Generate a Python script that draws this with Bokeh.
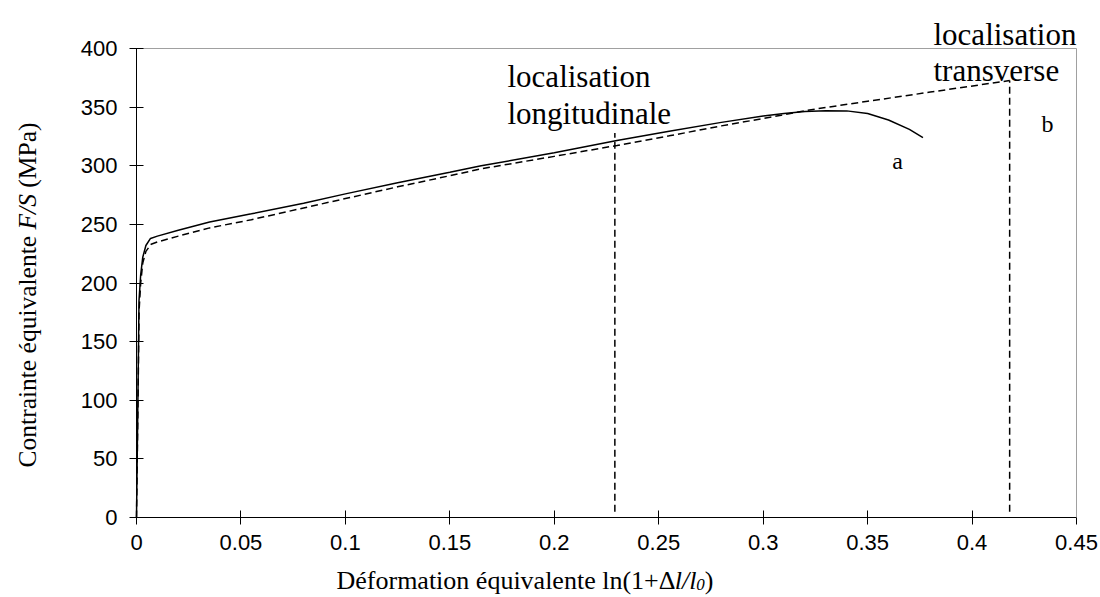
import math
from bokeh.plotting import figure
from bokeh.models import Range1d, FixedTicker, Label, LinearAxis
from bokeh.embed import file_html
from bokeh.resources import INLINE

# ---------------- data ----------------
x_ticks = [0, 0.05, 0.1, 0.15, 0.2, 0.25, 0.3, 0.35, 0.4, 0.45]
x_tick_labels = ["0", "0.05", "0.1", "0.15", "0.2", "0.25", "0.3", "0.35", "0.4", "0.45"]
y_ticks = [0, 50, 100, 150, 200, 250, 300, 350, 400]
y_tick_labels = ["0", "50", "100", "150", "200", "250", "300", "350", "400"]
x_min, x_max = 0, 0.45
y_min, y_max = 0, 400

# curve a (solid)
a_strain = [0, 0.0008, 0.0012, 0.002, 0.003, 0.0045, 0.0067, 0.01, 0.02, 0.035,
            0.055, 0.08, 0.1, 0.125, 0.15, 0.165, 0.2, 0.23, 0.255, 0.28,
            0.3, 0.31, 0.32, 0.33, 0.34, 0.35, 0.36, 0.37, 0.3765]
a_stress = [0, 120, 185, 207, 222, 232, 238, 240, 245, 252,
            259, 268, 276, 285.5, 294.5, 300, 311, 321.5, 329.5, 337,
            342.5, 344.6, 346.3, 347, 346.8, 344.5, 339, 331, 324]

# curve b (dashed)
b_strain = [0, 0.0008, 0.0012, 0.002, 0.003, 0.0045, 0.007, 0.01, 0.02, 0.035,
            0.055, 0.08, 0.1, 0.125, 0.15, 0.165, 0.2, 0.23, 0.255, 0.28,
            0.3086, 0.32, 0.35, 0.38, 0.418]
b_stress = [0, 110, 175, 200, 217, 227, 233, 235, 240, 247,
            254, 264, 272, 282, 291.5, 297.4, 308, 317.3, 325.5, 334,
            343, 347, 355, 362.8, 372.7]

# localisation markers (vertical dashed lines)
loc_x = [0.229, 0.418]
loc_bottom = [5, 5]
loc_top = [328, 372.7]

# ---------------- layout (picture pixels) ----------------
W, H = 1100, 597
PL, PR, PT, PB = 136, 1076, 48, 517   # plot area edges in picture pixels
kx = (x_max - x_min) / (PR - PL)
ky = (y_max - y_min) / (PB - PT)

def dx(px):
    return x_min + (px - PL) * kx

def dy(py):
    return y_min + (PB - py) * ky

p = figure(width=W, height=H, output_backend="svg", toolbar_location=None, title=None,
           x_axis_location=None, y_axis_location=None,
           x_range=Range1d(dx(0), dx(W)), y_range=Range1d(dy(H), dy(0)),
           min_border_left=0, min_border_right=0, min_border_top=0, min_border_bottom=0,
           background_fill_color="white", border_fill_color="white")
p.outline_line_color = None
for g in p.grid:
    g.grid_line_color = None

def style_axis(ax, ticks, labels):
    ax.ticker = FixedTicker(ticks=ticks)
    ax.major_label_overrides = {t: l for t, l in zip(ticks, labels)}
    ax.axis_line_color = "black"
    ax.axis_line_width = 1
    ax.major_tick_line_color = "black"
    ax.major_tick_in = 7
    ax.major_tick_out = 7
    ax.minor_tick_line_color = None
    ax.major_label_text_font = "Liberation Sans"
    ax.major_label_text_font_size = "22px"
    ax.major_label_text_color = "black"

xaxis = LinearAxis(fixed_location=y_min, bounds=(x_min, x_max), major_label_standoff=10)
style_axis(xaxis, x_ticks, x_tick_labels)
p.add_layout(xaxis, "below")

yaxis = LinearAxis(fixed_location=x_min, bounds=(y_min, y_max), major_label_standoff=12)
style_axis(yaxis, y_ticks, y_tick_labels)
p.add_layout(yaxis, "left")

# grey frame on top and right
for loc, side, bnds in ((y_max, "above", (x_min, x_max)), (x_max, "right", (y_min, y_max))):
    fr = LinearAxis(fixed_location=loc, bounds=bnds, ticker=FixedTicker(ticks=[]),
                    axis_line_color="#a0a0a0", axis_line_width=1,
                    major_tick_line_color=None, minor_tick_line_color=None,
                    major_label_text_color=None)
    p.add_layout(fr, side)

p.line(a_strain, a_stress, line_color="black", line_width=1.5)
p.line(b_strain, b_stress, line_color="black", line_width=1.5, line_dash="7 4")
p.segment(x0=loc_x, y0=loc_bottom, x1=loc_x, y1=loc_top,
          line_color="black", line_width=1.5, line_dash="7 4")

SERIF = "Liberation Serif"

def lab(text, px, py, size, align="left", style="normal", angle=0.0):
    p.add_layout(Label(x=dx(px), y=dy(py), text=text, text_font=SERIF,
                       text_font_size=f"{size}px", text_font_style=style,
                       text_align=align, text_baseline="alphabetic",
                       text_color="black", angle=angle))

# annotations
lab("localisation", 507, 76, 31)
lab("longitudinale", 507, 113, 31)
lab("localisation", 933, 34, 31)
lab("transverse", 933, 70, 31)
lab("a", 897, 160, 24, align="center")
lab("b", 1047, 123, 24, align="center")

# x axis title: Déformation équivalente ln(1+Δl/l0)
fs = 26
x0 = 336
base = 580
lab("Déformation équivalente ln(1+Δ", x0, base, fs)
x1 = x0 + 13.007 * fs
lab("l/l", x1, base, fs, style="italic")
x2 = x1 + 0.834 * fs
lab("0", x2, base + 4, 17, style="italic")
x3 = x2 + 0.5 * 17
lab(")", x3, base, fs)

# y axis title: Contrainte équivalente F/S (MPa)
fy = 25.5
total = 13.526 * fy
ystart = 294.5 + total / 2
bx = 27
lab("Contrainte équivalente", bx, ystart, fy, angle=math.pi / 2)
y2 = ystart - (9.082 + 0.25) * fy
lab("F/S", bx, y2, fy, style="italic", angle=math.pi / 2)
y3 = y2 - (1.389 + 0.25) * fy
lab("(MPa)", bx, y3, fy, angle=math.pi / 2)

open("out.html", "w").write(file_html(p, INLINE))
